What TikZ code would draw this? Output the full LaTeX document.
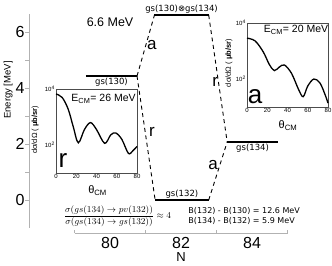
\documentclass[tikz,border=0pt]{standalone}
\usepackage{amsmath,amssymb}
\usepackage{fontspec}
\setmainfont{Liberation Sans}
\newfontfamily\dejavu{DejaVu Sans}

\tikzset{
  axisline/.style={gray!60, line width=0.8pt},
  ticklbl/.style={font=\fontsize{16}{18}\selectfont, inner sep=0pt},
  lvlline/.style={line width=1.8pt},
  transline/.style={line width=0.9pt, dash pattern=on 4pt off 3.5pt},
  lvllbl/.style={font=\dejavu\fontsize{8.5}{10}\selectfont, inner sep=1pt},
  trlbl/.style={font=\fontsize{17}{19}\selectfont, inner sep=0pt},
  inframe/.style={black!70, line width=0.9pt},
  xsec/.style={line width=1.3pt},
  inticks/.style={font=\fontsize{6}{7}\selectfont, inner sep=1pt},
  inylbl/.style={font=\fontsize{7.5}{9}\selectfont, rotate=90, inner sep=0pt},
  inxlbl/.style={font=\fontsize{11}{13}\selectfont, inner sep=0pt},
  ecm/.style={font=\fontsize{10.5}{12}\selectfont, inner sep=0pt},
  bigl/.style={font=\fontsize{26}{28}\selectfont, inner sep=0pt}
}

\begin{document}
\begin{tikzpicture}[x=35.5pt, y=28pt, >=stealth]
  \useasboundingbox (76.901,-2.357) rectangle (86.254,7.143);

  % ==========================================
  % AXES
  % ==========================================
  % Energy axis (vertical)
  \draw[axisline] (77.718,-1) -- (77.718,6.65);
  \foreach \e in {0,...,6}
    \draw[axisline] (77.718,\e) -- ++(-4pt,0);
  \foreach \e in {0,2,4,6}
    \node[ticklbl] (etick\e) at (77.465,\e) {\e};
  \node[font=\fontsize{9.5}{11}\selectfont, rotate=90] (elabel) at (77.127,3.93) {Energy [MeV]};

  % Neutron number axis (horizontal)
  \draw[axisline] (79,-1.18) -- (85,-1.18);
  \foreach \n in {79,81,83,85}
    \draw[axisline] (\n,-1.18) -- ++(0,3pt);
  \foreach \n in {80,82,84}
    \node[ticklbl] (ntick\n) at (\n,-1.54) {\n};
  \node[font=\fontsize{13}{15}\selectfont] (nlabel) at (82,-2.04) {N};

  % ==========================================
  % LEVELS
  % ==========================================
  \coordinate (g130w) at (79.32,4.43);
  \coordinate (g130e) at (80.76,4.43);
  \coordinate (gpw) at (81.25,6.6);
  \coordinate (gpe) at (82.78,6.6);
  \coordinate (g132w) at (81.27,0);
  \coordinate (g132e) at (82.78,0);
  \coordinate (g134w) at (83.30,2.07);
  \coordinate (g134e) at (84.73,2.07);

  \draw[lvlline] (g130w) -- node[lvllbl, below] (l130) {gs(130)} (g130e);
  \draw[lvlline] (gpw) -- node[lvllbl, above] (lpair) {gs(130)⊗gs(134)} (gpe);
  \draw[lvlline] (g132w) -- node[lvllbl, above] (l132) {gs(132)} (g132e);
  \draw[lvlline] (g134w) -- node[lvllbl, below] (l134) {gs(134)} (g134e);

  \node[font=\fontsize{12.5}{14}\selectfont] (qval) at (80.0,6.36) {6.6 MeV};

  % Transitions (a = addition, r = removal)
  \draw[transline] (g130e) -- (gpw);
  \draw[transline] (g130e) -- (g132w);
  \draw[transline] (gpe) -- (g134w);
  \draw[transline] (g132e) -- (g134w);
  \node[trlbl] (ta1) at (81.18,5.54) {a};
  \node[trlbl] (tr1) at (81.18,2.43) {r};
  \node[trlbl] (tr2) at (82.96,4.21) {r};
  \node[trlbl] (ta2) at (82.90,1.25) {a};

  % ==========================================
  % INSET : REMOVAL (LEFT)
  % ==========================================
  \coordinate (inRcorner) at (78.479,0.964);
  \begin{scope}[shift={(inRcorner)}, x=1.0125pt, y=28pt]
    \draw[inframe] (0,0) rectangle (80,3);
    \draw[xsec] plot[smooth, tension=0.55] coordinates {(0,2.82) (6,2.7) (12,2.28) (17,1.65) (22,1.08) (28,1.55) (34,1.8) (40,1.55) (48,1.06) (54,1.36) (59,1.43) (65,1.2) (71.5,0.7) (76,0.8) (80,0.95)};
    \foreach \t in {0,20,40,60,80}
      \node[inticks, below] (rth\t) at (\t,0) {\t};
    \node[inticks, left] (rdec4) at (0,3) {10\textsuperscript{4}};
    \node[inticks, left] (rdec2) at (0,1) {10\textsuperscript{2}};
    \node[inylbl] (rylbl) at (-20.7,1.54) {dσ/dΩ ( \textbf{μb/sr})};
    \node[inxlbl] (rxlbl) at (41,-0.63) {θ\textsubscript{CM}};
    \node[ecm] (recm) at (46.9,2.64) {E\textsubscript{CM}= 26 MeV};
    \node[bigl] (rbig) at (6.9,0.46) {r};
  \end{scope}

  % ==========================================
  % INSET : ADDITION (RIGHT)
  % ==========================================
  \coordinate (inAcorner) at (83.859,3.321);
  \begin{scope}[shift={(inAcorner)}, x=1.0125pt, y=28pt]
    \draw[inframe] (0,0) rectangle (80,3);
    \draw[xsec] plot[smooth, tension=0.55] coordinates {(0,2.46) (8,2.36) (16,1.97) (22,1.52) (27,1.3) (32,1.43) (37,1.5) (44,1.2) (51,0.62) (55.5,0.37) (60,0.75) (66,1.0) (72,0.86) (77,0.45) (80,0.14)};
    \foreach \t in {0,20,40,60,80}
      \node[inticks, below] (ath\t) at (\t,0) {\t};
    \node[inticks, left] (adec4) at (0,3) {10\textsuperscript{4}};
    \node[inticks, left] (adec2) at (0,1) {10\textsuperscript{2}};
    \node[inylbl] (aylbl) at (-17.8,1.57) {dσ/dΩ ( \textbf{μb/sr})};
    \node[inxlbl] (axlbl) at (40.5,-0.66) {θ\textsubscript{CM}};
    \node[ecm] (aecm) at (48.4,2.75) {E\textsubscript{CM}= 20 MeV};
    \node[bigl] (abig) at (7.9,0.36) {a};
  \end{scope}

  % ==========================================
  % RATIO AND BINDING ENERGIES
  % ==========================================
  \node[font=\fontsize{9.5}{11}\selectfont] (ratio) at (80.21,-0.57)
    {$\displaystyle\frac{\sigma(gs(134)\rightarrow pv(132))}{\sigma(gs(134)\rightarrow gs(132))}\approx 4$};
  \node[anchor=west, align=left, font=\dejavu\fontsize{8}{10}\selectfont] (bdiff) at (82.11,-0.57)
    {B(132) - B(130) = 12.6 MeV\\B(134) - B(132) = 5.9 MeV};

\end{tikzpicture}
\end{document}
